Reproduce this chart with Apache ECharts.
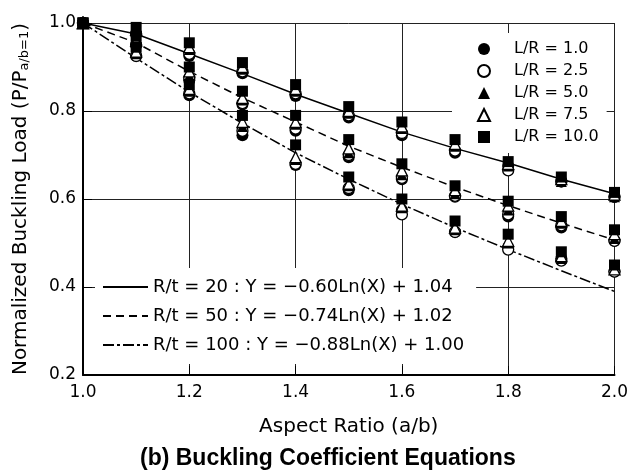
<!DOCTYPE html>
<html>
<head>
<meta charset="utf-8">
<script src="https://cdn.jsdelivr.net/npm/echarts@6/dist/echarts.min.js"></script>
<style>
  html, body { margin: 0; padding: 0; background: #fff; }
  #chart { width: 631px; height: 473px; }
</style>
</head>
<body>
<div id="chart"></div>
<script>
// aspect ratio a/b on the x axis
const aspectRatio = [1.0, 1.1, 1.2, 1.3, 1.4, 1.5, 1.6, 1.7, 1.8, 1.9, 2.0];

// test points, one array per L/R and R/t
const lr10_rt20  = [1.00, 0.990, 0.955, 0.910, 0.860, 0.810, 0.775, 0.735, 0.685, 0.650, 0.615];
const lr10_rt50  = [1.00, 0.970, 0.900, 0.845, 0.790, 0.735, 0.680, 0.630, 0.595, 0.560, 0.530];
const lr10_rt100 = [1.00, 0.945, 0.860, 0.790, 0.723, 0.650, 0.600, 0.550, 0.520, 0.480, 0.450];

const lr75_rt20  = [1.00, 0.985, 0.945, 0.900, 0.850, 0.800, 0.765, 0.725, 0.680, 0.645, 0.610];
const lr75_rt50  = [1.00, 0.960, 0.890, 0.830, 0.775, 0.715, 0.665, 0.620, 0.585, 0.550, 0.520];
const lr75_rt100 = [1.00, 0.935, 0.850, 0.775, 0.695, 0.635, 0.585, 0.535, 0.505, 0.470, 0.440];

const lr5_rt20   = [1.00, 0.980, 0.940, 0.895, 0.845, 0.795, 0.760, 0.720, 0.675, 0.640, 0.605];
const lr5_rt50   = [1.00, 0.955, 0.880, 0.825, 0.770, 0.705, 0.655, 0.612, 0.575, 0.545, 0.510];
const lr5_rt100  = [1.00, 0.930, 0.845, 0.765, 0.690, 0.630, 0.580, 0.530, 0.500, 0.465, 0.440];

const lr25_rt20  = [1.00, 0.975, 0.930, 0.890, 0.840, 0.790, 0.750, 0.710, 0.665, 0.640, 0.605];
const lr25_rt50  = [1.00, 0.950, 0.875, 0.818, 0.760, 0.700, 0.648, 0.607, 0.565, 0.540, 0.505];
const lr25_rt100 = [1.00, 0.925, 0.840, 0.755, 0.680, 0.625, 0.565, 0.525, 0.485, 0.460, 0.435];

const lr1_rt20   = [1.00, 0.975, 0.925, 0.886, 0.834, 0.785, 0.745, 0.705, 0.675, 0.640, 0.605];
const lr1_rt50   = [1.00, 0.950, 0.870, 0.815, 0.755, 0.695, 0.645, 0.605, 0.560, 0.535, 0.505];
const lr1_rt100  = [1.00, 0.925, 0.836, 0.745, 0.677, 0.620, 0.575, 0.525, 0.490, 0.465, 0.435];

// fitted curves as drawn in the figure
const fit_rt20  = [1.00, 0.975, 0.930, 0.885, 0.838, 0.795, 0.752, 0.715, 0.682, 0.645, 0.612];
const fit_rt50  = [1.00, 0.955, 0.890, 0.830, 0.775, 0.720, 0.672, 0.627, 0.585, 0.545, 0.507];
const fit_rt100 = [1.00, 0.920, 0.843, 0.772, 0.705, 0.645, 0.588, 0.535, 0.485, 0.437, 0.390];

const lrNames  = ['L/R = 1.0', 'L/R = 2.5', 'L/R = 5.0', 'L/R = 7.5', 'L/R = 10.0'];
const fitNames = [
  'R/t = 20 : Y = \u22120.60Ln(X) + 1.04',
  'R/t = 50 : Y = \u22120.74Ln(X) + 1.02',
  'R/t = 100 : Y = \u22120.88Ln(X) + 1.00'
];

const toPairs = (arr) => aspectRatio.map((x, i) => [x, arr[i]]);

const scatterSets = [
  { name: lrNames[0], sym: 'circle',   size: 12, fill: '#000', groups: [lr1_rt20, lr1_rt50, lr1_rt100] },
  { name: lrNames[1], sym: 'circle',   size: 11, fill: '#fff', groups: [lr25_rt20, lr25_rt50, lr25_rt100] },
  { name: lrNames[2], sym: 'triangle', size: 11, fill: '#000', groups: [lr5_rt20, lr5_rt50, lr5_rt100] },
  { name: lrNames[3], sym: 'triangle', size: 11, fill: '#fff', groups: [lr75_rt20, lr75_rt50, lr75_rt100] },
  { name: lrNames[4], sym: 'rect',     size: 11, fill: '#000', groups: [lr10_rt20, lr10_rt50, lr10_rt100] }
];

const fitSets = [
  { name: fitNames[0], data: fit_rt20,  dash: 'solid' },
  { name: fitNames[1], data: fit_rt50,  dash: [8, 5] },
  { name: fitNames[2], data: fit_rt100, dash: [11, 3, 3, 3] }
];

const series = [];
fitSets.forEach((f) => {
  series.push({
    name: f.name,
    type: 'line',
    data: toPairs(f.data),
    symbol: 'none',
    z: 3,
    lineStyle: { color: '#000', width: 1.5, type: f.dash },
    itemStyle: { color: 'rgba(0,0,0,0)', borderColor: 'rgba(0,0,0,0)' }
  });
});
scatterSets.forEach((s) => {
  series.push({
    name: s.name,
    type: 'scatter',
    symbol: s.sym,
    symbolSize: s.size,
    symbolKeepAspect: true,
    z: 4,
    data: [].concat(...s.groups.map(toPairs)),
    itemStyle: { color: s.fill, borderColor: '#000', borderWidth: s.fill === '#fff' ? 1.3 : 0, opacity: 1 }
  });
});

const font = 'DejaVu Sans, Verdana, sans-serif';

const chart = echarts.init(document.getElementById('chart'));
chart.setOption({
  animation: false,
  backgroundColor: '#fff',
  title: {
    text: '(b) Buckling Coefficient Equations',
    left: 140,
    top: 447,
    padding: 0,
    textStyle: { fontFamily: 'Liberation Sans, Arial, sans-serif', fontWeight: 'bold', fontSize: 23, color: '#000' }
  },
  grid: { left: 83, right: 14, top: 23, bottom: 98 },
  legend: [
    {
      data: lrNames,
      orient: 'vertical',
      left: 452,
      top: 33,
      z: 1,
      backgroundColor: '#fff',
      padding: [8, 8, 8, 25],
      itemWidth: 12,
      itemHeight: 12,
      itemGap: 6,
      selectedMode: false,
      textStyle: { fontFamily: font, fontSize: 16, color: '#000', padding: [0, 0, 0, 19] }
    },
    {
      data: fitNames,
      orient: 'vertical',
      left: 95,
      top: 268,
      z: 1,
      backgroundColor: '#fff',
      padding: [10, 12, 10, 7],
      itemWidth: 45,
      itemHeight: 14,
      itemGap: 11,
      selectedMode: false,
      textStyle: { fontFamily: font, fontSize: 18, color: '#000' }
    }
  ],
  xAxis: {
    type: 'value',
    min: 1.0,
    max: 2.0,
    interval: 0.2,
    name: 'Aspect Ratio (a/b)',
    nameLocation: 'middle',
    nameGap: 42,
    nameTextStyle: { fontFamily: font, fontSize: 20, color: '#000' },
    axisLine: { lineStyle: { color: '#000', width: 2 } },
    axisTick: { inside: true, length: 9, lineStyle: { color: '#000', width: 1 } },
    axisLabel: { fontFamily: font, fontSize: 17, color: '#000', margin: 9, formatter: (v) => v.toFixed(1) },
    splitLine: { show: true, lineStyle: { color: '#222', width: 1 } }
  },
  yAxis: {
    type: 'value',
    min: 0.2,
    max: 1.0,
    interval: 0.2,
    name: '{m|Normalized Buckling Load (P/P}{s|a/b=1}{m|)}',
    nameLocation: 'middle',
    nameGap: 52,
    nameTextStyle: {
      color: '#000',
      rich: {
        m: { fontFamily: font, fontSize: 20, color: '#000' },
        s: { fontFamily: font, fontSize: 13, color: '#000', verticalAlign: 'bottom', padding: [8, 0, 0, 0] }
      }
    },
    axisLine: { show: true, lineStyle: { color: '#000', width: 2 } },
    axisTick: { show: true, inside: true, length: 9, lineStyle: { color: '#000', width: 1 } },
    axisLabel: { fontFamily: font, fontSize: 17, color: '#000', margin: 7, formatter: (v) => v.toFixed(1) },
    splitLine: { show: true, lineStyle: { color: '#222', width: 1 } }
  },
  series: series
});
</script>
</body>
</html>
